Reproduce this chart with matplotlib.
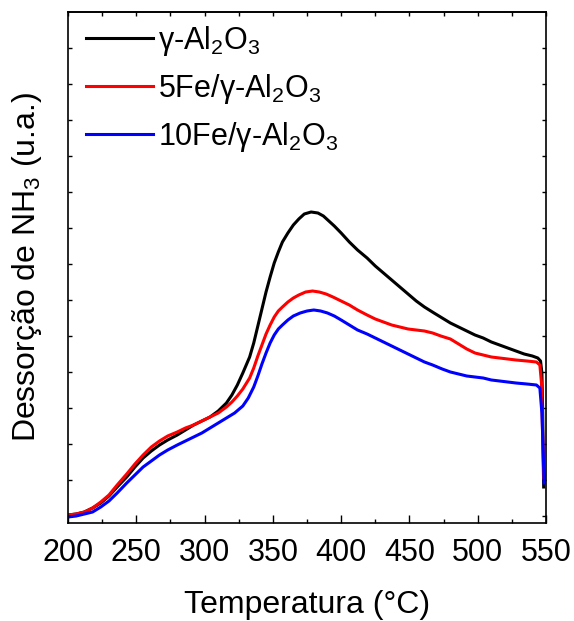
import numpy as np
import matplotlib
matplotlib.use('Agg')
import matplotlib.pyplot as plt
from matplotlib import rc

# NH3-TPD curves (arbitrary units)
temp_al2o3 = [200, 206, 212, 218, 224, 230, 236, 243, 249, 255, 261, 267, 273, 280, 286,
              292, 298, 304, 310, 316, 320, 324, 328, 333, 336, 339, 342, 345, 348, 351,
              354, 357, 361, 365, 369, 373, 378, 383, 387, 391, 395, 400, 406, 412, 419,
              425, 431, 437, 443, 449, 455, 461, 468, 474, 480, 486, 492, 498, 504, 510,
              516, 522, 528, 534, 540, 544, 546, 547, 547.6, 548, 548.3]
des_al2o3 = [8, 9, 11, 15, 20, 27, 36, 46, 56, 65, 72, 78, 83, 88, 93,
             98, 102, 106, 112, 120, 128, 138, 150, 166, 180, 197, 214, 231, 246, 260,
             271, 281, 290, 298, 304, 309, 311, 310, 307, 302, 297, 290, 281, 273, 265,
             257, 250, 243, 236, 229, 222, 216, 210, 205, 200, 196, 192, 188, 185, 181,
             178, 175, 172, 169, 167, 165, 162, 150, 110, 60, 36]

temp_5fe = [200, 206, 212, 218, 224, 230, 236, 243, 249, 255, 261, 267, 273, 280, 286,
            292, 298, 304, 310, 316, 320, 324, 328, 333, 336, 339, 342, 345, 348, 351,
            354, 357, 361, 365, 369, 374, 379, 384, 389, 394, 400, 406, 412, 419, 425,
            431, 437, 443, 449, 455, 461, 467, 473, 480, 486, 492, 498, 504, 510, 516,
            522, 528, 536, 543, 545.5, 546.7, 547.5, 548.4]
des_5fe = [8, 9, 11, 15, 21, 28, 38, 49, 59, 68, 76, 82, 87, 91, 95,
           98, 102, 106, 110, 116, 121, 127, 134, 145, 155, 167, 178, 189, 198, 206,
           212, 216, 221, 225, 228, 231, 232, 231, 229, 226, 222, 218, 213, 208, 204,
           201, 198, 196, 194, 193, 192, 190, 187, 184, 179, 174, 170, 168, 166, 165,
           164, 163, 162, 161, 158, 140, 90, 45]

temp_10fe = [200, 206, 212, 218, 224, 230, 236, 243, 249, 255, 261, 267, 273, 280, 286,
             292, 298, 304, 310, 316, 322, 328, 332, 336, 339, 342, 345, 348, 351, 354,
             357, 361, 365, 370, 375, 380, 385, 390, 395, 400, 406, 412, 419, 425, 431,
             437, 443, 449, 455, 461, 467, 474, 480, 486, 492, 498, 504, 510, 516, 522,
             528, 536, 543, 545.5, 547, 548, 548.6]
des_10fe = [6, 7, 9, 11, 16, 22, 30, 40, 48, 56, 62, 68, 73, 78, 82,
            86, 90, 95, 100, 105, 110, 117, 125, 136, 147, 159, 170, 180, 188, 194,
            198, 203, 207, 210, 212, 213, 212, 210, 207, 203, 198, 193, 189, 185, 181,
            177, 173, 169, 165, 161, 158, 154, 151, 149, 147, 146, 145, 143, 142, 141,
            140, 139, 138, 135, 110, 70, 40]

labels = ['γ-Al$_2$O$_3$', '5Fe/γ-Al$_2$O$_3$', '10Fe/γ-Al$_2$O$_3$']
colors = ['black', 'red', 'blue']

if __name__ == '__main__':
    rc('font', family='Liberation Sans', size=22)
    rc('mathtext', **{'fontset': 'custom', 'rm': 'Liberation Sans',
                      'it': 'Liberation Sans', 'default': 'regular'})

    fig = plt.figure(figsize=(5.74, 6.21), dpi=100)
    ax = fig.add_axes([68 / 574, 1 - 523 / 621, 478 / 574, 511 / 621])

    ax.plot(temp_al2o3, des_al2o3, color=colors[0], lw=2.2, label=labels[0])
    ax.plot(temp_5fe, des_5fe, color=colors[1], lw=2.2, label=labels[1])
    ax.plot(temp_10fe, des_10fe, color=colors[2], lw=2.2, label=labels[2])

    ax.set_xlim(200, 550)
    ax.set_ylim(0, 511)
    ax.set_xticks(np.arange(200, 551, 50))
    ax.set_xticks(np.arange(225, 550, 50), minor=True)
    ax.set_yticks(np.arange(7, 511, 36))
    ax.set_yticklabels([])
    ax.tick_params(axis='x', which='major', direction='in', length=6, width=1, pad=11)
    ax.tick_params(axis='x', which='minor', direction='in', length=3, width=1)
    ax.tick_params(axis='y', direction='in', length=3, width=1, right=True)
    top = ax.secondary_xaxis('top')
    top.set_xticks(np.arange(200, 551, 25))
    top.tick_params(direction='in', length=3, width=1, labeltop=False)
    for s in list(ax.spines.values()) + [top.spines['top']]:
        s.set_linewidth(1.2)

    ax.set_xlabel('Temperatura (°C)', fontsize=23, labelpad=16)
    ax.set_ylabel('Dessorção de NH$_3$ (u.a.)', fontsize=23, labelpad=14)

    ax.legend(loc='upper left', frameon=False, fontsize=22, handlelength=2.2,
              handletextpad=0.15, labelspacing=0.45,
              bbox_to_anchor=(-0.02, 1.03))

    fig.savefig('out.png', dpi=100)
